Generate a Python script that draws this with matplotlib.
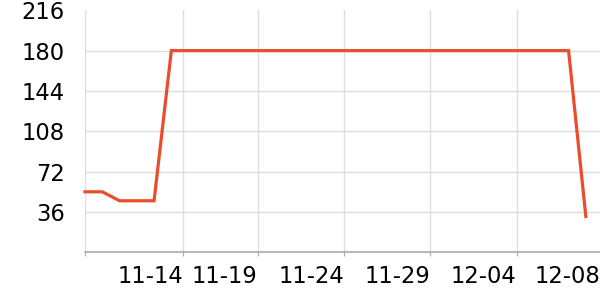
import matplotlib
matplotlib.use("Agg")
import matplotlib.pyplot as plt
import matplotlib.transforms as mtransforms

# daily values, first point = 11-09
values = [54, 54, 46, 46, 46] + [180] * 24 + [32]
x = list(range(len(values)))

tick_pos = [0, 5.67, 10, 15, 20, 25]
tick_labels = ["", "11-14", "11-19", "11-24", "11-29", "12-04"]
last_label = "12-08"
y_ticks = [36, 72, 108, 144, 180, 216]

fig = plt.figure(figsize=(6, 3), dpi=100)
ax = fig.add_axes([85 / 600, 47.7 / 300, 515 / 600, 242 / 300])

ax.plot(x, values, color="#ec4c2c", linewidth=2.3, solid_joinstyle="miter", clip_on=False, zorder=3)

ax.set_xlim(0, 29.82)
ax.set_ylim(0, 216)

ax.set_yticks(y_ticks)
ax.set_yticklabels([str(v) for v in y_ticks])
ax.set_xticks(tick_pos)
ax.set_xticklabels(tick_labels, ha="right")

ax.grid(True, color="#dddddd", linewidth=1)
ax.yaxis.get_gridlines()[-1].set_visible(False)
ax.set_axisbelow(True)

for s in ["top", "right", "left"]:
    ax.spines[s].set_visible(False)
ax.spines["bottom"].set_color("#aaaaaa")
ax.spines["bottom"].set_linewidth(1.2)

ax.tick_params(axis="y", length=0, pad=14.5, labelsize=16.3, labelcolor="black")
ax.tick_params(axis="x", length=3, color="#aaaaaa", pad=6, labelsize=16.3, labelcolor="black")

trans = mtransforms.blended_transform_factory(ax.transData, ax.get_xaxis_transform())
lbl = ax.get_xticklabels()[1]
ax.text(29.85, 0, last_label, transform=trans, ha="right", va="top",
        fontsize=16.3, color="black",
        fontproperties=None)
# match offset of regular tick labels
ax.texts[-1].set_transform(trans + mtransforms.ScaledTranslation(0, -(6 + 3) / 72, fig.dpi_scale_trans))

fig.savefig("out.png", dpi=100)
